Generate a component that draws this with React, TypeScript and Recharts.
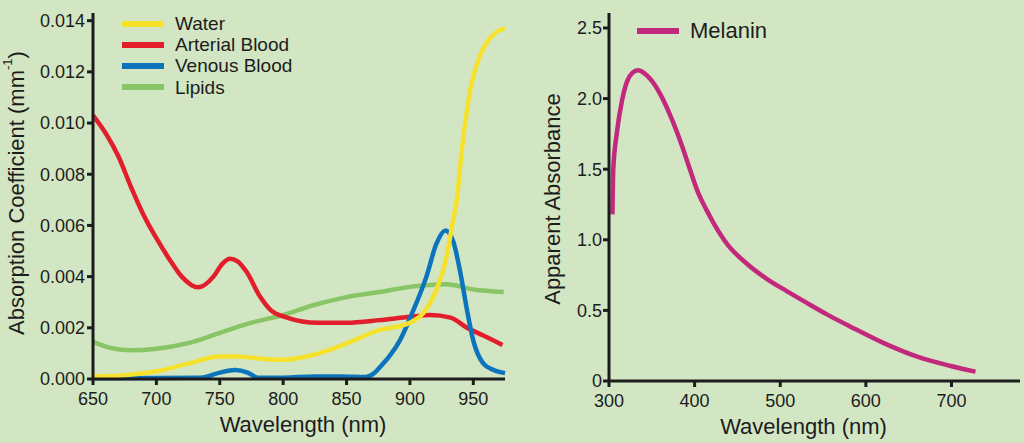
import React from "react";
import { LineChart, Line, XAxis, YAxis, Legend } from "recharts";

// tissue absorption, 650-975 nm
const waterNm = [650, 675, 700, 725, 750, 765, 780, 800, 820, 840, 860, 875, 890, 900, 911, 921, 929, 934, 937, 941, 945, 948, 951, 955, 960, 968, 975];
const waterCoef = [0.0001, 0.00015, 0.0003, 0.0006, 0.00088, 0.00088, 0.0008, 0.00075, 0.0009, 0.0012, 0.0016, 0.0019, 0.00205, 0.0022, 0.0026, 0.0035, 0.0048, 0.0062, 0.007, 0.009, 0.0105, 0.0114, 0.012, 0.0126, 0.0131, 0.01355, 0.0137];

const arterialNm = [650, 660, 670, 680, 690, 700, 710, 720, 733, 745, 752, 758, 764, 771, 782, 790, 803, 827, 850, 876, 900, 916, 932, 945, 958, 973];
const arterialCoef = [0.0103, 0.0096, 0.0087, 0.0075, 0.0064, 0.0055, 0.0047, 0.004, 0.00358, 0.004, 0.0045, 0.0047, 0.0046, 0.0042, 0.0032, 0.0027, 0.0024, 0.0022, 0.0022, 0.0023, 0.00243, 0.0025, 0.0024, 0.002, 0.0017, 0.00133];

const venousNm = [650, 700, 735, 750, 762, 772, 780, 800, 825, 845, 865, 871, 877, 884, 892, 902, 913, 921, 928, 934, 940, 945, 950, 958, 966, 975];
const venousCoef = [0.00003, 0.00004, 0.00005, 0.00025, 0.00035, 0.00025, 0.00005, 0.00005, 0.0001, 0.0001, 0.00008, 0.0002, 0.0005, 0.0009, 0.0015, 0.0026, 0.004, 0.0053, 0.0058, 0.0054, 0.0041, 0.0027, 0.0015, 0.0006, 0.00035, 0.00023];

const lipidNm = [650, 665, 680, 700, 725, 750, 775, 800, 825, 850, 876, 900, 929, 950, 974];
const lipidCoef = [0.00145, 0.0012, 0.00112, 0.00118, 0.0014, 0.0018, 0.0022, 0.0025, 0.0029, 0.0032, 0.0034, 0.0036, 0.0037, 0.0035, 0.0034];

const tissueTicksX = [650, 700, 750, 800, 850, 900, 950];
const tissueTicksY = [0, 0.002, 0.004, 0.006, 0.008, 0.01, 0.012, 0.014];
const tissueOrder = ["Water", "Arterial Blood", "Venous Blood", "Lipids"];

// melanin, 300-730 nm
const melaninNm = [304, 305, 309, 315, 321, 327, 334, 341, 348, 360, 373, 385, 395, 403, 414, 422, 438, 461, 485, 508, 531, 555, 582, 621, 660, 699, 728];
const melaninAbs = [1.18, 1.5, 1.75, 1.98, 2.12, 2.18, 2.2, 2.18, 2.14, 2.03, 1.86, 1.67, 1.49, 1.35, 1.21, 1.12, 0.97, 0.83, 0.72, 0.635, 0.553, 0.47, 0.385, 0.268, 0.172, 0.106, 0.066];

const melaninTicksX = [300, 400, 500, 600, 700];
const melaninTicksY = [0, 0.5, 1, 1.5, 2, 2.5];

const FONT = "'Liberation Sans', Arial, Helvetica, sans-serif";
const INK = "#1c1c1c";

const zip = (xs: number[], ys: number[]) => xs.map((nm, i) => ({ nm, v: ys[i] }));

function AxisTitle({ viewBox, dx = 0, dy = 0, vertical = false, children }: any) {
  const cx = viewBox.x + viewBox.width / 2 + dx;
  const cy = viewBox.y + viewBox.height / 2 + dy;
  return (
    <text
      x={cx}
      y={cy}
      textAnchor="middle"
      dominantBaseline="central"
      fill={INK}
      fontSize={22}
      fontFamily={FONT}
      transform={vertical ? `rotate(-90 ${cx} ${cy})` : undefined}
    >
      {children}
    </text>
  );
}

function SeriesLegend({ payload, order, fontSize, rowHeight }: any) {
  const items = [...(payload ?? [])].sort((a: any, b: any) => order.indexOf(a.value) - order.indexOf(b.value));
  return (
    <div style={{ fontFamily: FONT }}>
      {items.map((it: any) => (
        <div key={it.value} style={{ display: "flex", alignItems: "center", height: rowHeight }}>
          <svg width={42} height={6} style={{ display: "block" }}>
            <line x1={0} y1={3} x2={42} y2={3} stroke={it.color} strokeWidth={6} />
          </svg>
          <span style={{ marginLeft: 11, fontSize, lineHeight: `${rowHeight}px`, color: INK, whiteSpace: "nowrap" }}>{it.value}</span>
        </div>
      ))}
    </div>
  );
}

const axisLine = { stroke: INK, strokeWidth: 3 };
const tickLine = { stroke: INK, strokeWidth: 3 };
const tickStyle = { fill: INK, fontSize: 18, fontFamily: FONT };

function TissueChart() {
  return (
    <LineChart width={520} height={443} margin={{ top: 13, right: 15, bottom: 34, left: 33 }}>
      <XAxis
        type="number"
        dataKey="nm"
        domain={[650, 975]}
        ticks={tissueTicksX}
        height={30}
        axisLine={axisLine}
        tickLine={tickLine}
        tickSize={6}
        tickMargin={7}
        tick={tickStyle}
        label={<AxisTitle dx={4} dy={30}>Wavelength (nm)</AxisTitle>}
      />
      <YAxis
        type="number"
        dataKey="v"
        domain={[0, 0.0143]}
        ticks={tissueTicksY}
        width={60}
        axisLine={axisLine}
        tickLine={tickLine}
        tickSize={6}
        tickMargin={2}
        tick={tickStyle}
        tickFormatter={(v: number) => v.toFixed(3)}
        label={
          <AxisTitle vertical dx={-47} dy={-3}>
            Absorption Coefficient (mm
            <tspan dy={-9} fontSize={13}>-1</tspan>
            <tspan dy={9}>)</tspan>
          </AxisTitle>
        }
      />
      <Legend
        layout="vertical"
        align="center"
        verticalAlign="middle"
        wrapperStyle={{ left: 122, top: 13, width: "auto" }}
        content={(p: any) => <SeriesLegend {...p} order={tissueOrder} fontSize={19} rowHeight={21.2} />}
      />
      <Line name="Lipids" data={zip(lipidNm, lipidCoef)} dataKey="v" type="monotone" stroke="#88c566" strokeWidth={4.5} dot={false} isAnimationActive={false} />
      <Line name="Arterial Blood" data={zip(arterialNm, arterialCoef)} dataKey="v" type="monotone" stroke="#e31e2c" strokeWidth={4.5} dot={false} isAnimationActive={false} />
      <Line name="Venous Blood" data={zip(venousNm, venousCoef)} dataKey="v" type="monotone" stroke="#0b74bd" strokeWidth={4.5} dot={false} isAnimationActive={false} />
      <Line name="Water" data={zip(waterNm, waterCoef)} dataKey="v" type="monotone" stroke="#f6e22c" strokeWidth={4.5} dot={false} isAnimationActive={false} />
    </LineChart>
  );
}

function MelaninChart() {
  return (
    <LineChart width={504} height={443} margin={{ top: 13, right: 4, bottom: 32, left: 29 }}>
      <XAxis
        type="number"
        dataKey="nm"
        domain={[300, 780]}
        ticks={melaninTicksX}
        height={30}
        axisLine={axisLine}
        tickLine={tickLine}
        tickSize={6}
        tickMargin={7}
        tick={tickStyle}
        label={<AxisTitle dx={-11} dy={30}>Wavelength (nm)</AxisTitle>}
      />
      <YAxis
        type="number"
        dataKey="v"
        domain={[0, 2.606]}
        ticks={melaninTicksY}
        width={60}
        axisLine={axisLine}
        tickLine={tickLine}
        tickSize={6}
        tickMargin={1}
        tick={tickStyle}
        tickFormatter={(v: number) => (v === 0 ? "0" : v.toFixed(1))}
        label={<AxisTitle vertical dx={-27} dy={2}>Apparent Absorbance</AxisTitle>}
      />
      <Legend
        layout="vertical"
        align="center"
        verticalAlign="middle"
        wrapperStyle={{ left: 117, top: 19, width: "auto" }}
        content={(p: any) => <SeriesLegend {...p} order={["Melanin"]} fontSize={22} rowHeight={24} />}
      />
      <Line name="Melanin" data={zip(melaninNm, melaninAbs)} dataKey="v" type="monotone" stroke="#c2297d" strokeWidth={4.5} dot={false} isAnimationActive={false} />
    </LineChart>
  );
}

export default function App() {
  return (
    <div style={{ position: "absolute", left: 0, top: 0, width: 1024, height: 443, background: "#d2e6c3", display: "flex" }}>
      <TissueChart />
      <MelaninChart />
    </div>
  );
}
